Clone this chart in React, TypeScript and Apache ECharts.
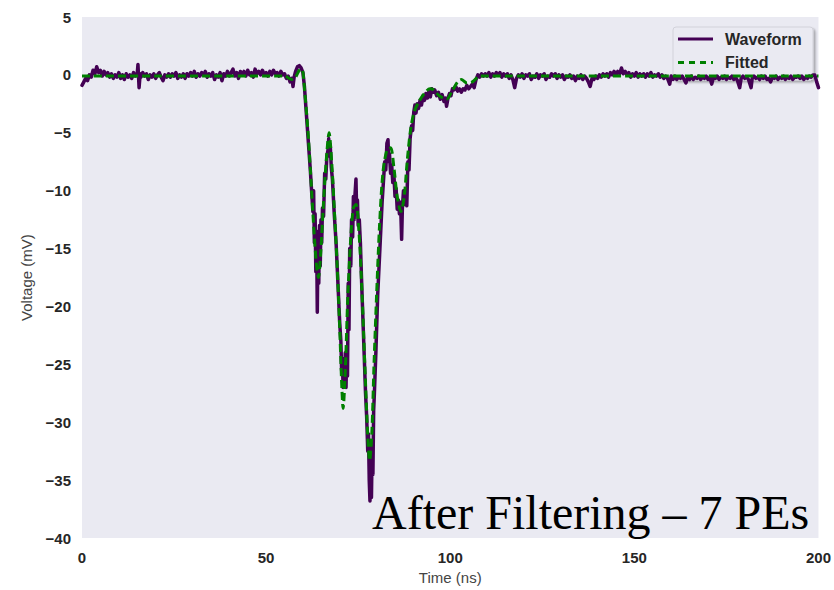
import React, { useEffect, useRef } from "react";
import * as echarts from "echarts";

// ---- Data ----
const xTicks = [0, 50, 100, 150, 200];
const yTicks = [5, 0, -5, -10, -15, -20, -25, -30, -35, -40];

// Waveform: [time ns, voltage mV]
const waveformPre: [number, number][] = [
  [0, -0.9], [0.5, -0.6], [1, -0.3], [1.5, -0.5], [2, 0.0], [2.5, -0.2], [3, 0.4], [3.5, 0.1], [4, 0.7],
  [4.5, 0.2], [5, 0.4], [5.5, -0.1], [6, 0.3], [6.5, 0.0], [7, 0.2], [7.5, -0.2], [8, 0.1], [8.5, -0.3],
  [9, 0.0], [9.5, -0.2], [10, 0.2], [10.5, -0.3], [11, 0.0], [11.5, -0.4], [12, 0.1], [12.5, -0.2],
  [13, 0.0], [13.5, -0.3], [14, 0.2], [14.5, -0.1], [15, 0.1], [15.2, 0.9], [15.5, -1.1], [15.8, 0.1],
  [16, -0.2], [16.5, 0.2], [17, -0.1], [17.5, 0.1], [18, -0.4], [18.5, 0.0], [19, -0.2], [19.5, 0.1],
  [20, -0.3], [20.5, 0.0], [21, 0.2], [21.5, -0.2], [22, -0.5], [22.5, 0.0], [23, -0.2], [23.5, 0.1],
  [24, -0.2], [24.5, 0.1], [25, -0.1], [25.5, 0.2], [26, -0.3], [26.5, 0.0], [27, -0.2], [27.5, 0.1],
  [28, -0.3], [28.5, 0.1], [29, -0.1], [29.5, 0.2], [30, -0.1], [30.5, 0.3], [31, -0.2], [31.5, 0.1],
  [32, -0.1], [32.5, 0.2], [33, 0.0], [33.5, 0.3], [34, -0.2], [34.5, 0.1], [35, -0.1], [35.5, 0.2],
  [36, -0.4], [36.5, 0.0], [37, -0.2], [37.5, 0.2], [38, -0.5], [38.5, 0.1], [39, -0.1], [39.5, 0.3],
  [40, -0.1], [40.5, 0.2], [41, 0.5], [41.5, -0.1], [42, 0.2], [42.5, -0.3], [43, 0.3], [43.5, 0.0],
  [44, 0.3], [44.5, -0.1], [45, 0.4], [45.5, 0.0], [46, 0.2], [46.5, -0.2], [47, 0.5], [47.5, 0.1],
  [48, 0.3], [48.5, 0.0], [49, 0.4], [49.5, 0.0], [50, 0.2], [50.5, -0.1], [51, 0.3], [51.5, 0.0],
  [52, 0.4], [52.5, 0.1], [53, 0.2], [53.5, -0.1], [54, 0.3], [54.5, 0.0], [55, 0.1], [55.5, -0.3],
  [56, -0.1], [56.5, -0.6], [57, -0.3], [57.3, -1.0], [57.6, -0.2], [58, 0.3], [58.5, 0.7], [59, 0.8],
  [59.5, 0.6],
];

const waveformPulse: [number, number][] = [
  [60, 0.2], [60.4, -1.0], [60.8, -2.8], [61.2, -4.6], [61.6, -6.4], [62.0, -8.2], [62.4, -10.3],
  [62.7, -11.8], [62.9, -10.0], [63.1, -14.5], [63.3, -12.0], [63.5, -17.0], [63.7, -13.5], [63.9, -20.5],
  [64.1, -14.0], [64.3, -18.0], [64.5, -13.0], [64.7, -16.5], [64.9, -12.5], [65.1, -14.5], [65.3, -11.5],
  [65.6, -12.2], [65.9, -8.5], [66.2, -9.0], [66.5, -7.0], [66.8, -6.5], [67.0, -5.5], [67.2, -7.0],
  [67.4, -6.0], [67.7, -8.0], [68.0, -9.0], [68.5, -12.0], [69.0, -14.5], [69.5, -18.0], [70.0, -21.5],
  [70.3, -23.0], [70.5, -25.5], [70.7, -24.5], [70.9, -27.0], [71.1, -25.0], [71.3, -26.5], [71.5, -24.0],
  [71.7, -27.0], [71.9, -23.5], [72.1, -26.0], [72.3, -18.0], [72.5, -22.0], [72.7, -15.0], [73.0, -16.5],
  [73.2, -12.5], [73.5, -14.0], [73.7, -10.5], [73.9, -12.5], [74.1, -10.5], [74.4, -9.0], [74.6, -12.0],
  [74.8, -10.8], [75.0, -13.0], [75.3, -12.5], [75.6, -14.5], [76.0, -18.5], [76.5, -23.0], [77.0, -27.5],
  [77.3, -29.5], [77.6, -32.5], [77.8, -31.0], [78.0, -35.0], [78.2, -36.8], [78.4, -33.0], [78.6, -36.5],
  [78.8, -32.0], [79.0, -34.5], [79.2, -29.0], [79.4, -27.5], [79.8, -24.0], [80.3, -19.0], [80.9, -15.0],
  [81.5, -11.0], [81.9, -9.0], [82.2, -7.5], [82.5, -8.2], [82.8, -5.9], [83.1, -5.6], [83.3, -7.5],
  [83.5, -6.8], [83.8, -8.5], [84.1, -7.8], [84.4, -9.3], [84.7, -8.6], [85.0, -10.5], [85.3, -9.8],
  [85.6, -11.6], [85.9, -10.8], [86.2, -12.0], [86.5, -11.0], [86.8, -14.2], [87.0, -11.5], [87.3, -10.0],
  [87.6, -11.2], [87.9, -10.5], [88.2, -11.3], [88.5, -7.5], [88.8, -8.2], [89.1, -5.5], [89.5, -4.4],
  [89.8, -4.8], [90.1, -3.2], [90.4, -2.6], [90.7, -3.3], [91.0, -2.5], [91.4, -2.9], [91.8, -2.2],
  [92.2, -2.6], [92.6, -1.8], [93.0, -2.2], [93.4, -1.6], [93.8, -2.0], [94.2, -1.4], [94.6, -1.9],
  [95.0, -1.2], [95.4, -1.5], [95.8, -1.3], [96.3, -1.8], [96.8, -1.5], [97.3, -2.1], [97.8, -1.7],
  [98.3, -2.3], [98.7, -2.0], [99.0, -2.7], [99.4, -2.0], [99.8, -1.6], [100.2, -1.8], [100.6, -1.2],
  [101.0, -1.3], [101.5, -1.0], [102.0, -1.4], [102.5, -1.2], [103.0, -1.5], [103.5, -1.2], [104.0, -1.3],
  [104.5, -0.9], [105.0, -1.2], [105.5, -1.0], [106.0, -0.8], [106.5, -1.1], [107.0, -0.4], [107.5, 0.0],
  [108.0, -0.2], [108.5, 0.1],
];

const waveformPost: [number, number][] = [
  [109, -0.1], [109.5, 0.1], [110, -0.1], [110.5, 0.2], [111, -0.2], [111.5, 0.1], [112, -0.1], [112.5, 0.2],
  [113, 0.0], [113.5, 0.2], [114, -0.2], [114.5, 0.1], [115, -0.1], [115.5, 0.1], [116, -0.3], [116.5, 0.0],
  [117, -0.4], [117.5, -1.1], [118, -0.3], [118.5, 0.0], [119, -0.2], [119.5, 0.1], [120, -0.3], [120.5, 0.0],
  [121, -0.1], [121.5, 0.1], [122, -0.4], [122.5, -0.1], [123, -0.2], [123.5, 0.1], [124, -0.3], [124.5, 0.0],
  [125, -0.1], [125.5, 0.1], [126, -0.4], [126.5, -0.1], [127, -0.2], [127.5, 0.1], [128, -0.1], [128.5, 0.1],
  [129, -0.3], [129.5, 0.0], [130, -0.2], [130.5, 0.0], [131, -0.4], [131.5, -0.1], [132, -0.2], [132.5, 0.0],
  [133, -0.3], [133.5, -0.1], [134, -0.5], [134.5, -0.1], [135, -0.3], [135.5, 0.0], [136, -0.4], [136.5, -0.1],
  [137, -0.3], [137.5, -0.6], [138, -1.0], [138.5, -0.3], [139, -0.4], [139.5, -0.1], [140, -0.3], [140.5, 0.0],
  [141, -0.2], [141.5, 0.1], [142, -0.1], [142.5, 0.1], [143, -0.2], [143.5, 0.2], [144, 0.0], [144.5, 0.3],
  [145, 0.0], [145.5, 0.3], [146, 0.1], [146.5, 0.6], [147, 0.1], [147.5, 0.3], [148, 0.0], [148.5, 0.2],
  [149, -0.2], [149.5, 0.1], [150, -0.1], [150.5, 0.2], [151, -0.2], [151.5, 0.1], [152, -0.1], [152.5, 0.1],
  [153, -0.2], [153.5, 0.1], [154, -0.1], [154.5, 0.2], [155, -0.2], [155.5, 0.0], [156, -0.1], [156.5, 0.1],
  [157, -0.2], [157.5, 0.0], [158, -0.3], [158.5, -0.1], [159, -0.3], [159.6, -0.8], [160, -0.1], [160.5, -0.4],
  [161, -0.1], [161.5, -0.4], [162, -0.2], [162.5, -0.3], [163, -0.1], [163.5, -0.4], [164, -0.7], [164.5, -0.2],
  [165, -0.4], [165.5, -0.1], [166, -0.4], [166.5, -0.2], [167, -0.3], [167.5, -0.1], [168, -0.4], [168.5, -0.2],
  [169, -0.3], [169.5, -0.1], [170, -0.4], [170.5, -0.2], [171, -0.8], [171.5, -0.2], [172, -0.3], [172.5, -0.1],
  [173, -0.4], [173.5, -0.2], [174, -0.3], [174.5, -0.1], [175, -0.4], [175.5, -0.2], [176, -0.3], [176.5, -0.1],
  [177, -0.4], [177.5, -0.2], [178, -0.5], [178.6, -1.1], [179, -0.3], [179.5, -0.1], [180, -0.3], [180.5, -0.2],
  [181, -0.4], [181.7, -1.1], [182, -0.3], [182.5, -0.1], [183, -0.3], [183.5, -0.2], [184, -0.4], [184.5, -0.1],
  [185, -0.3], [185.5, -0.1], [186, -0.4], [186.5, -0.3], [187, -0.6], [187.5, -0.2], [188, -0.3], [188.5, -0.1],
  [189, -0.4], [189.5, -0.2], [190, -0.3], [190.5, -0.1], [191, -0.4], [191.5, -0.2], [192, -0.3], [192.5, -0.1],
  [193, -0.4], [193.5, -0.2], [194, -0.2], [194.5, -0.1], [195, -0.3], [195.5, -0.1], [196, -0.4], [196.5, -0.2],
  [197, -0.3], [197.5, -0.1], [198, -0.2], [198.5, 0.0], [199, 0.0], [199.5, -0.6], [200, -1.1],
];

// Fitted curve: [time ns, voltage mV]
const fittedPoints: [number, number][] = [
  [0, -0.1], [20, -0.1], [40, -0.1], [55, -0.1], [57, -0.4], [58, -0.2], [59, 0.4], [59.7, 0.5],
  [60.5, -1.5], [61.5, -5.5], [62.3, -9.7], [63, -13.5], [63.7, -16.5], [64.2, -17.5], [64.8, -15.5],
  [65.5, -11.5], [66.3, -7.5], [67.1, -5.0], [67.8, -7.5], [68.5, -11.5], [69.3, -16.5], [70, -22],
  [70.5, -26.5], [70.9, -28.8], [71.5, -25.5], [72.2, -19], [73, -14], [73.7, -11.5], [74.4, -11.2],
  [75.2, -13.5], [76, -18.5], [76.8, -25], [77.5, -30.5], [78.1, -33.3], [78.7, -31], [79.3, -25],
  [80, -19], [80.8, -13], [81.7, -8.5], [82.8, -6.5], [83.8, -6.3], [84.7, -8], [85.6, -10.5],
  [86.6, -11.8], [87.5, -10.5], [88.3, -7.5], [89.2, -4.8], [90.2, -3.2], [91.5, -2.3], [93, -1.6],
  [94.5, -1.2], [95.5, -1.3], [97, -1.8], [99, -2.1], [100.5, -1.4], [102, -0.6], [103, -0.4],
  [104.5, -0.7], [106, -0.6], [108, -0.1], [110, -0.1], [130, -0.1], [150, -0.1], [170, -0.1],
  [190, -0.1], [200, -0.1],
];

const seriesNames = ["Waveform", "Fitted"];
const seriesColors = ["#440154", "#008000"];
const annotation = "After Filtering \u2013 7 PEs";
const xName = "Time (ns)";
const yName = "Voltage (mV)";

const fmt = (v: number) => (v < 0 ? "\u2212" + Math.abs(v) : String(v));

export default function App() {
  const ref = useRef<HTMLDivElement>(null);
  useEffect(() => {
    if (!ref.current) return;
    const chart = echarts.init(ref.current, undefined, { renderer: "svg" });
    const waveform = [...waveformPre, ...waveformPulse, ...waveformPost];
    const legendFont = "bold 16px 'Liberation Sans'";
    chart.setOption({
      animation: false,
      backgroundColor: "#ffffff",
      grid: {
        left: 82,
        top: 17,
        width: 737,
        height: 524,
        show: true,
        backgroundColor: "#EAEAF2",
        borderWidth: 0,
      },
      xAxis: {
        type: "value",
        min: xTicks[0],
        max: xTicks[xTicks.length - 1],
        interval: 50,
        axisLine: { show: false },
        axisTick: { show: false },
        splitLine: { show: false },
        axisLabel: {
          margin: 12,
          fontFamily: "Liberation Sans",
          fontWeight: "bold",
          fontSize: 15,
          color: "#262626",
          formatter: fmt,
        },
        name: xName,
        nameLocation: "middle",
        nameGap: 30,
        nameTextStyle: { fontFamily: "Liberation Sans", fontSize: 15, color: "#444444" },
      },
      yAxis: {
        type: "value",
        min: yTicks[yTicks.length - 1],
        max: yTicks[0],
        interval: 5,
        axisLine: { show: false },
        axisTick: { show: false },
        splitLine: { show: false },
        axisLabel: {
          margin: 11,
          fontFamily: "Liberation Sans",
          fontWeight: "bold",
          fontSize: 15,
          color: "#262626",
          formatter: fmt,
        },
        name: yName,
        nameLocation: "middle",
        nameGap: 48,
        nameTextStyle: { fontFamily: "Liberation Sans", fontSize: 15, color: "#444444" },
      },
      series: [
        {
          name: seriesNames[0],
          type: "line",
          data: waveform,
          showSymbol: false,
          symbol: "none",
          lineStyle: { color: seriesColors[0], width: 3.5, cap: "round", join: "round" },
          itemStyle: { color: seriesColors[0] },
          z: 2,
        },
        {
          name: seriesNames[1],
          type: "line",
          data: fittedPoints,
          showSymbol: false,
          symbol: "none",
          smooth: 0.3,
          lineStyle: { color: seriesColors[1], width: 3, type: [8, 4] },
          itemStyle: { color: seriesColors[1] },
          z: 3,
        },
      ],
      graphic: [
        {
          type: "text",
          z: 100,
          left: 372,
          top: 488,
          style: {
            text: annotation,
            font: "48px 'Liberation Serif'",
            fill: "#000000",
          },
        },
        {
          type: "group",
          z: 90,
          children: [
            {
              type: "rect",
              shape: { x: 673, y: 27, width: 140, height: 53, r: 3 },
              style: {
                fill: "#EAEAF2",
                stroke: "#d2d2da",
                lineWidth: 1,
                shadowColor: "rgba(0,0,0,0.3)",
                shadowBlur: 2,
                shadowOffsetX: 2,
                shadowOffsetY: 2,
              },
            },
            {
              type: "line",
              shape: { x1: 678, y1: 39, x2: 713, y2: 39 },
              style: { stroke: seriesColors[0], lineWidth: 3 },
            },
            {
              type: "line",
              shape: { x1: 678, y1: 62.5, x2: 713, y2: 62.5 },
              style: { stroke: seriesColors[1], lineWidth: 3, lineDash: [6, 5] },
            },
            {
              type: "text",
              x: 725,
              y: 39,
              style: { text: seriesNames[0], font: legendFont, fill: "#262626", verticalAlign: "middle" },
            },
            {
              type: "text",
              x: 725,
              y: 62.5,
              style: { text: seriesNames[1], font: legendFont, fill: "#262626", verticalAlign: "middle" },
            },
          ],
        },
      ],
    });
    return () => chart.dispose();
  }, []);
  return (
    <div
      ref={ref}
      style={{ position: "absolute", left: 0, top: 0, width: 834, height: 590 }}
    />
  );
}
